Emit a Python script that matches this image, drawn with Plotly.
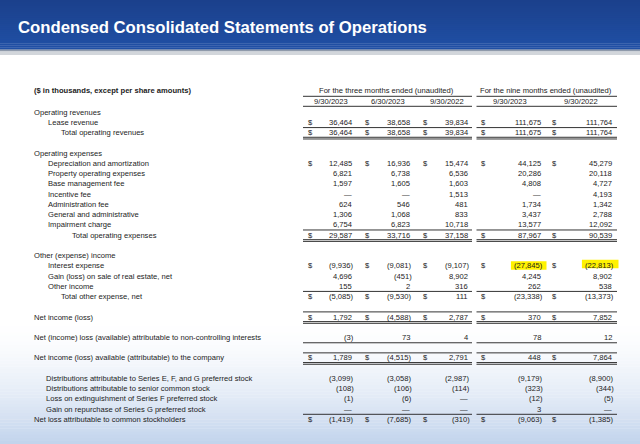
import plotly.graph_objects as go

# ---------------- data ----------------
title = "Condensed Consolidated Statements of Operations"
units_note = "($ in thousands, except per share amounts)"
group_titles = ["For the three months ended (unaudited)", "For the nine months ended (unaudited)"]
period_labels = ["9/30/2023", "6/30/2023", "9/30/2022", "9/30/2023", "9/30/2022"]

row_labels = [
    "Operating revenues", "Lease revenue", "Total operating revenues",
    "Operating expenses", "Depreciation and amortization", "Property operating expenses",
    "Base management fee", "Incentive fee", "Administration fee", "General and administrative",
    "Impairment charge", "Total operating expenses",
    "Other (expense) income", "Interest expense", "Gain (loss) on sale of real estate, net",
    "Other income", "Total other expense, net",
    "Net income (loss)",
    "Net (income) loss (available) attributable to non-controlling interests",
    "Net income (loss) available (attributable) to the company",
    "Distributions attributable to Series E, F, and G preferred stock",
    "Distributions attributable to senior common stock",
    "Loss on extinguishment of Series F preferred stock",
    "Gain on repurchase of Series G preferred stock",
    "Net loss attributable to common stockholders",
]
row_indent = [0, 1, 2, 0, 1, 1, 1, 1, 1, 1, 1, 3, 0, 1, 1, 1, 2, 0, 0, 0, 4, 4, 4, 4, 0]
row_slot = [0, 1, 2, 4, 5, 6, 7, 8, 9, 10, 11, 12, 14, 15, 16, 17, 18, 20, 22, 24, 26, 27, 28, 29, 30]
row_dollar = [0, 1, 1, 0, 1, 0, 0, 0, 0, 0, 0, 1, 0, 1, 0, 0, 1, 1, 0, 1, 0, 0, 0, 0, 1]
# rule codes: "a" line above, "b" single below, "d" double below
row_rules = ["", "", "ad", "", "", "", "", "", "", "", "", "ad", "", "", "", "", "a", "ad", "b", "ad", "", "", "", "", "a"]

q3_2023 = [None, 36464, 36464, None, 12485, 6821, 1597, 0, 624, 1306, 6754, 29587,
           None, -9936, 4696, 155, -5085, 1792, -3, 1789, -3099, -108, -1, 0, -1419]
q2_2023 = [None, 38658, 38658, None, 16936, 6738, 1605, 0, 546, 1068, 6823, 33716,
           None, -9081, -451, 2, -9530, -4588, 73, -4515, -3058, -106, -6, 0, -7685]
q3_2022 = [None, 39834, 39834, None, 15474, 6536, 1603, 1513, 481, 833, 10718, 37158,
           None, -9107, 8902, 316, 111, 2787, 4, 2791, -2987, -114, 0, 0, -310]
ytd_2023 = [None, 111675, 111675, None, 44125, 20286, 4808, 0, 1734, 3437, 13577, 87967,
            None, -27845, 4245, 262, -23338, 370, 78, 448, -9179, -323, -12, 3, -9063]
ytd_2022 = [None, 111764, 111764, None, 45279, 20118, 4727, 4193, 1342, 2788, 12092, 90539,
            None, -22813, 8902, 538, -13373, 7852, 12, 7864, -8900, -344, -5, 0, -1385]
columns = [q3_2023, q2_2023, q3_2022, ytd_2023, ytd_2022]
highlighted = [(13, 3), (13, 4)]  # (row, column) cells marked in yellow

# ---------------- layout constants ----------------
W, H = 640, 444
FONT = "Liberation Sans, Arial, Helvetica, sans-serif"
FS = 7.6
TXT = "#1c1c1c"
Y0, STEP = 112.2, 10.24
indent_x = [31.5, 46, 59, 70, 44.3]
dollar_x = [305.5, 362.5, 420.5, 478.5, 549.5]
value_right = [353.5, 411.5, 469.5, 542.5, 613.5]
group_span = [(303, 472), (476.5, 617)]


def fmt(v):
    if v is None:
        return ""
    if v == 0:
        return "\u2014"
    s = f"{abs(v):,}"
    return f"({s})" if v < 0 else s


def ry(i):
    return Y0 + STEP * row_slot[i]


shapes = []
ann = []

# header band gradient
top_c = (27, 64, 140)
bot_c = (32, 80, 165)
n = 25
for k in range(n):
    t = k / (n - 1)
    c = tuple(int(round(top_c[j] + (bot_c[j] - top_c[j]) * t)) for j in range(3))
    shapes.append(dict(type="rect", xref="x", yref="y", x0=0, x1=W, y0=k * 49.5 / n, y1=(k + 1) * 49.5 / n + 0.3,
                       fillcolor=f"rgb{c}", line_width=0, layer="below"))
shapes.append(dict(type="rect", xref="x", yref="y", x0=0, x1=W, y0=49.5, y1=51.5,
                   fillcolor="#8f9aab", line_width=0, layer="below"))
shapes.append(dict(type="rect", xref="x", yref="y", x0=0, x1=W, y0=51.5, y1=55,
                   fillcolor="#d2d6db", line_width=0, layer="below"))

# bottom light-blue wash
g0, g1 = 320, H
m = 40
for k in range(m):
    t = (k + 0.5) / m
    a = t ** 1.6
    c = tuple(int(round(255 + (v - 255) * a)) for v in (193, 211, 236))
    shapes.append(dict(type="rect", xref="x", yref="y", x0=0, x1=W, y0=g0 + (g1 - g0) * k / m,
                       y1=g0 + (g1 - g0) * (k + 1) / m + 0.3, fillcolor=f"rgb{c}", line_width=0, layer="below"))

# highlights
for (r, c) in highlighted:
    yy = ry(r)
    txt = fmt(columns[c][r])
    wdt = len(txt) * 4.2
    x1 = value_right[c] + 3.5
    shapes.append(dict(type="rect", xref="x", yref="y", x0=x1 - wdt - 1.5, x1=x1 + 1.5 if c == 4 else x1 + 0.5,
                       y0=yy - 4.5 - (1.5 if c == 4 else 0), y1=yy + 4 - (1.5 if c == 4 else 0),
                       fillcolor="#fff200", line_width=0, layer="below"))

# title
ann.append(dict(x=16, y=27.3, text=f"<b>{title}</b>", xanchor="left", yanchor="middle",
                font=dict(family=FONT, size=16.7, color="white")))
# units note
ann.append(dict(x=31.5, y=90.6, text=f"<b>{units_note}</b>", xanchor="left", yanchor="middle",
                font=dict(family=FONT, size=FS, color=TXT)))
# group titles
for gi, gt in enumerate(group_titles):
    a, b = group_span[gi]
    ann.append(dict(x=(a + b) / 2 - 1, y=90.6, text=gt, xanchor="center", yanchor="middle",
                    font=dict(family=FONT, size=FS, color=TXT)))
    shapes.append(dict(type="line", xref="x", yref="y", x0=a, x1=b, y0=96.3, y1=96.3,
                       line=dict(color="#333", width=1)))
    shapes.append(dict(type="line", xref="x", yref="y", x0=a, x1=b, y0=106.3, y1=106.3,
                       line=dict(color="#333", width=1)))
period_x = [330.5, 387.5, 447, 509.5, 581]
for pi, p in enumerate(period_labels):
    ann.append(dict(x=period_x[pi], y=101.5, text=p, xanchor="center", yanchor="middle",
                    font=dict(family=FONT, size=FS, color=TXT)))

# rows
for i, lab in enumerate(row_labels):
    yy = ry(i)
    ann.append(dict(x=indent_x[row_indent[i]], y=yy, text=lab, xanchor="left", yanchor="middle",
                    font=dict(family=FONT, size=FS, color=TXT)))
    for c, col in enumerate(columns):
        v = col[i]
        if v is None:
            continue
        s = fmt(v)
        xr = value_right[c] + (2.6 if v < 0 else 0)
        ann.append(dict(x=xr, y=yy, text=s, xanchor="right", yanchor="middle",
                        font=dict(family=FONT, size=FS, color=TXT)))
        if row_dollar[i]:
            ann.append(dict(x=dollar_x[c], y=yy, text="$", xanchor="left", yanchor="middle",
                            font=dict(family=FONT, size=FS, color=TXT)))
    rules = row_rules[i]
    for a, b in group_span:
        if "a" in rules:
            shapes.append(dict(type="line", xref="x", yref="y", x0=a, x1=b, y0=yy - 5.1, y1=yy - 5.1,
                               line=dict(color="#333", width=1)))
        if "b" in rules:
            shapes.append(dict(type="line", xref="x", yref="y", x0=a, x1=b, y0=yy + 5.3, y1=yy + 5.3,
                               line=dict(color="#333", width=1)))
        if "d" in rules:
            for dy in (4.6, 6.3):
                shapes.append(dict(type="line", xref="x", yref="y", x0=a, x1=b, y0=yy + dy, y1=yy + dy,
                                   line=dict(color="#333", width=1)))

for a_ in ann:
    a_.update(xref="x", yref="y", showarrow=False)

fig = go.Figure()
fig.update_layout(
    width=W, height=H, margin=dict(l=0, r=0, t=0, b=0),
    paper_bgcolor="white", plot_bgcolor="white",
    xaxis=dict(range=[0, W], visible=False, fixedrange=True),
    yaxis=dict(range=[H, 0], visible=False, fixedrange=True),
    shapes=shapes, annotations=ann, showlegend=False,
)
fig.write_html("out.html", config={"displayModeBar": False},
               post_script="document.body.style.margin='0';document.body.style.overflow='hidden';")
